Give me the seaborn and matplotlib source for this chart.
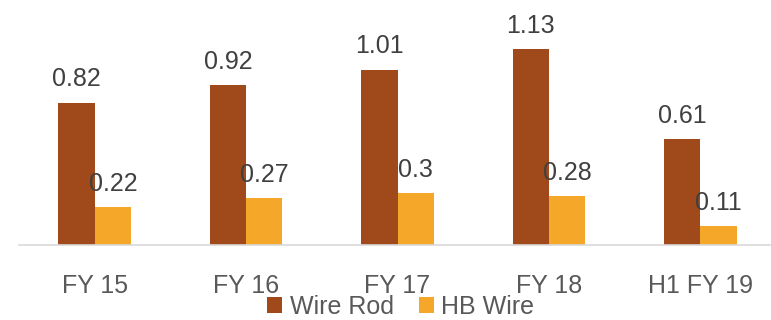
import pandas as pd
import matplotlib.pyplot as plt
import seaborn as sns

# data
periods = ['FY 15', 'FY 16', 'FY 17', 'FY 18', 'H1 FY 19']
wire_rod = [0.82, 0.92, 1.01, 1.13, 0.61]
hb_wire = [0.22, 0.27, 0.30, 0.28, 0.11]
value_labels = {'Wire Rod': ['0.82', '0.92', '1.01', '1.13', '0.61'],
                'HB Wire': ['0.22', '0.27', '0.3', '0.28', '0.11']}

df = pd.DataFrame({'Period': periods * 2,
                   'Product': ['Wire Rod'] * 5 + ['HB Wire'] * 5,
                   'Value': wire_rod + hb_wire})

sns.set_theme(style='white')
plt.rcParams['font.family'] = ['Liberation Sans', 'DejaVu Sans']

fig = plt.figure(figsize=(7.71, 3.2), dpi=100)
ax = fig.add_axes([19 / 771, 75 / 320, 757 / 771, 245 / 320])

sns.barplot(data=df, x='Period', y='Value', hue='Product',
            palette=['#A0491A', '#F5A72A'], width=0.48, gap=0,
            saturation=1, linewidth=0, ax=ax, legend=True)

# value labels above the bars
for cont, name in zip(ax.containers, ['Wire Rod', 'HB Wire']):
    ax.bar_label(cont, labels=value_labels[name], padding=8,
                 fontsize=18, color='#404040')

ax.set_xlim(-0.5, 4.5)
ax.set_ylim(0, 1.41)
ax.set_xlabel('')
ax.set_ylabel('')
ax.set_yticks([])
ax.tick_params(axis='x', length=0, pad=21, labelsize=18, labelcolor='#595959')
for s in ['top', 'right', 'left']:
    ax.spines[s].set_visible(False)
ax.spines['bottom'].set_color('#D9D9D9')
ax.spines['bottom'].set_linewidth(1.2)

handles, labels = ax.get_legend_handles_labels()
ax.legend_.remove()
fig.legend(handles, labels, loc='center', bbox_to_anchor=(0.52, 0.04),
           ncol=2, frameon=False, fontsize=18, labelcolor='#595959',
           handlelength=0.6, handleheight=0.6, handletextpad=0.3,
           columnspacing=1.0, borderpad=0.1)

fig.savefig('out.png', dpi=100)
